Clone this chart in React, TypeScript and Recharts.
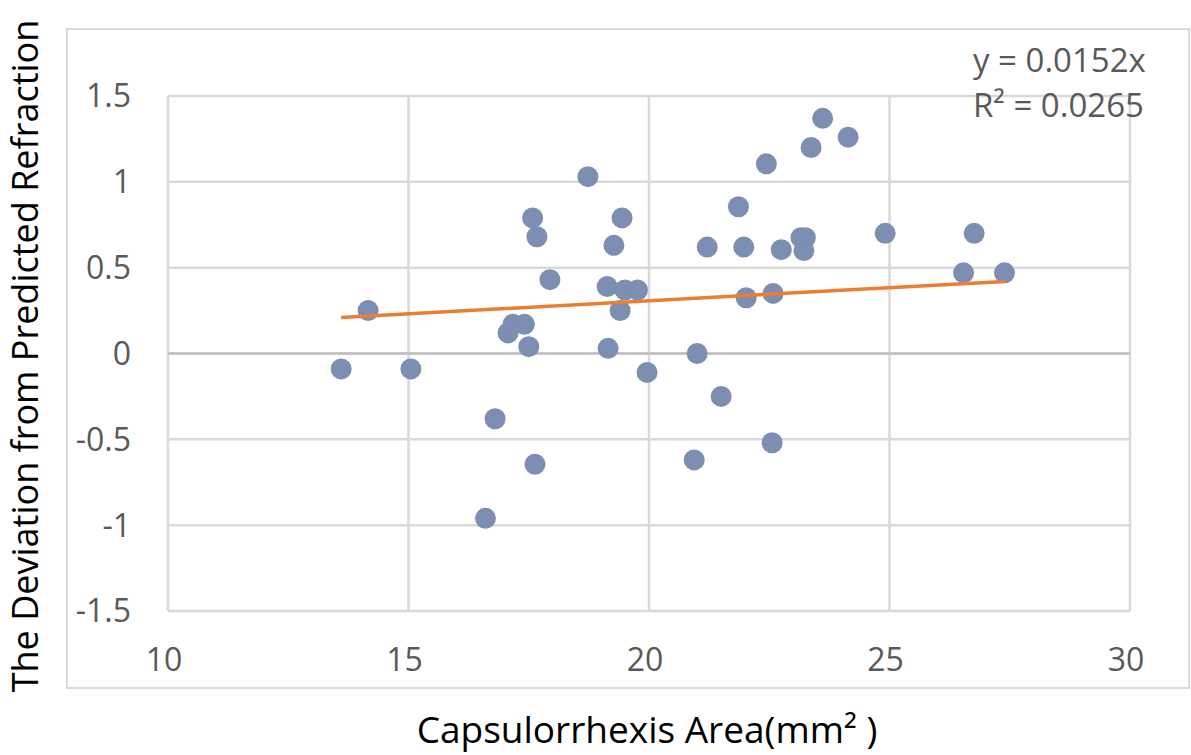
import React from 'react';
import {
  ScatterChart,
  Scatter,
  XAxis,
  YAxis,
  CartesianGrid,
  ReferenceLine
} from 'recharts';

// capsulorrhexis area (mm²)
const areaValues = [
  13.6, 14.16, 15.05, 16.6, 16.8, 17.07, 17.17, 17.41, 17.5, 17.58, 17.67, 17.63,
  17.94, 18.73, 19.13, 19.15, 19.27, 19.4, 19.44, 19.5, 19.76, 19.96, 20.94, 21.0,
  21.21, 21.5, 21.86, 21.97, 22.02, 22.44, 22.56, 22.58, 22.75, 23.16, 23.25, 23.22,
  23.37, 23.61, 24.14, 24.91, 26.54, 26.76, 27.39
];

// deviation from predicted refraction
const deviationValues = [
  -0.09, 0.25, -0.09, -0.96, -0.38, 0.12, 0.17, 0.17, 0.04, 0.79, 0.68, -0.645,
  0.43, 1.03, 0.39, 0.03, 0.63, 0.25, 0.79, 0.37, 0.37, -0.11, -0.62, 0.0,
  0.62, -0.25, 0.855, 0.62, 0.325, 1.105, -0.52, 0.35, 0.605, 0.675, 0.675, 0.6,
  1.2, 1.37, 1.26, 0.7, 0.47, 0.7, 0.47
];

// linear trendline (y = 0.0152x) end points
const trendX = [13.6, 27.4];
const trendY = [0.21, 0.42];

const xTicks = [10, 15, 20, 25, 30];
const yTicks = [-1.5, -1, -0.5, 0, 0.5, 1, 1.5];

const points = areaValues.map((x, i) => ({ x, y: deviationValues[i] }));
const trend = trendX.map((x, i) => ({ x, y: trendY[i] }));

const FONT = '"Open Sans", sans-serif';
const TICK = { fill: '#595959', fontSize: 32, fontFamily: FONT };

const Dot = (props: any) => (
  <circle cx={props.cx} cy={props.cy} r={10.5} fill="#7c8eb2" />
);

export default function App() {
  return (
    <div style={{ position: 'absolute', left: 0, top: 0, width: 1191, height: 755, background: '#fff' }}>
      {/* outer chart frame */}
      <div
        style={{
          position: 'absolute',
          left: 66,
          top: 28,
          width: 1120,
          height: 657,
          border: '2px solid #d9d9d9'
        }}
      />
      <ScatterChart
        width={1191}
        height={755}
        margin={{ top: 96, right: 61, bottom: 84, left: 68 }}
        style={{ position: 'absolute', left: 0, top: 0 }}
      >
        <CartesianGrid stroke="#d9d9d9" strokeWidth={2.5} />
        <XAxis
          type="number"
          dataKey="x"
          domain={[10, 30]}
          ticks={xTicks}
          axisLine={false}
          tickLine={false}
          tickSize={0}
          tickMargin={37}
          height={60}
          tick={{ ...TICK, dx: -4 }}
          interval={0}
        />
        <YAxis
          type="number"
          dataKey="y"
          domain={[-1.5, 1.5]}
          ticks={yTicks}
          axisLine={false}
          tickLine={false}
          tickSize={0}
          tickMargin={37}
          width={100}
          tick={TICK}
          interval={0}
        />
        <ReferenceLine y={0} stroke="#bfbfbf" strokeWidth={2.5} />
        <Scatter data={points} shape={Dot} isAnimationActive={false} />
        <Scatter
          data={trend}
          line={{ stroke: '#ed7d31', strokeWidth: 3.5 }}
          shape={() => <g />}
          isAnimationActive={false}
        />
      </ScatterChart>
      <svg
        width={1191}
        height={755}
        style={{ position: 'absolute', left: 0, top: 0, pointerEvents: 'none' }}
      >
        <text x={973} y={72} fill="#595959" fontSize={33} fontFamily={FONT}>
          y = 0.0152x
        </text>
        <text x={973} y={117} fill="#595959" fontSize={33} fontFamily={FONT}>
          R² = 0.0265
        </text>
        <text
          transform="translate(38,356) rotate(-90)"
          textAnchor="middle"
          fill="#000"
          fontSize={36}
          fontFamily={FONT}
        >
          The Deviation from Predicted Refraction
        </text>
        <text x={647} y={743} textAnchor="middle" fill="#000" fontSize={37} fontFamily={FONT}>
          Capsulorrhexis Area(mm² )
        </text>
      </svg>
    </div>
  );
}
